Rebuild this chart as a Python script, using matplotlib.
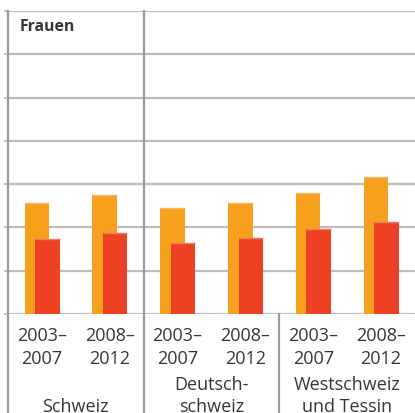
import matplotlib
matplotlib.use("Agg")
import matplotlib.pyplot as plt
import numpy as np

periods = ["2003–\n2007", "2008–\n2012", "2003–\n2007", "2008–\n2012", "2003–\n2007", "2008–\n2012"]
regions = ["\nSchweiz", "Deutsch-\nschweiz", "Westschweiz\nund Tessin"]
series_a = [12.8, 13.7, 12.3, 12.8, 14.0, 15.8]   # orange
series_b = [8.7, 9.3, 8.2, 8.8, 9.8, 10.6]        # red
panel_title = "Frauen"

ORANGE = "#F7A01E"
RED = "#EE4123"
ORANGE_TOP = "#F9B865"
RED_TOP = "#F27A64"
GRID = "#BEBEBE"
VLINE = "#9A9A9D"
TEXT = "#363636"

plt.rcParams['font.family'] = ['Open Sans', 'DejaVu Sans']

fig = plt.figure(figsize=(4.15, 4.14), dpi=100)
ax = fig.add_axes([8/415, 1 - 315/414, 1 - 8/415, 303/414])

x = np.arange(len(periods))
w = 0.36
ax.bar(x - 0.075, series_a, width=w, color=ORANGE, zorder=3)
ax.bar(x + 0.08, series_b, width=w, color=RED, zorder=4)
ax.hlines(series_a, x - 0.075 - w/2, x - 0.075 + w/2, colors=ORANGE_TOP, lw=1.0, zorder=3.5)
ax.hlines(series_b, x + 0.08 - w/2, x + 0.08 + w/2, colors=RED_TOP, lw=1.0, zorder=4.5)

ax.set_xlim(-0.5, 5.5)
ax.set_ylim(0, 35)
ax.set_yticks(np.arange(0, 36, 5))
ax.set_yticklabels([])
ax.set_xticks([])
ax.yaxis.grid(True, color=GRID, lw=1.6, zorder=0)
ax.tick_params(axis='y', length=3, width=1.4, color=GRID, pad=0)
for s in ["top", "right", "bottom", "left"]:
    ax.spines[s].set_visible(False)

ybot = -(414 - 315) / 303
ax.axvline(-0.5, ymin=ybot, ymax=1.0, color=VLINE, lw=1.6, clip_on=False, zorder=5)
ax.axvline(1.5, ymin=ybot, ymax=1.0, color=VLINE, lw=1.6, clip_on=False, zorder=5)
ax.axvline(3.5, ymin=ybot, ymax=0.0, color=VLINE, lw=1.6, clip_on=False, zorder=5)

ax.text(0.028, 0.95, panel_title, transform=ax.transAxes, ha="left", va="center",
        fontsize=11.3, fontweight="bold", color=TEXT)

tr = ax.get_xaxis_transform()
for xi, lab in zip(x, periods):
    ax.text(xi, -(347.5 - 315) / 303, lab, transform=tr, ha="center", va="center",
            fontsize=13, color=TEXT, linespacing=1.3)
for i, lab in enumerate(regions):
    ax.text(2 * i + 0.5, -(396 - 315) / 303, lab, transform=tr, ha="center", va="center",
            fontsize=13, color=TEXT, linespacing=1.3)

fig.savefig("out.png", dpi=100)
